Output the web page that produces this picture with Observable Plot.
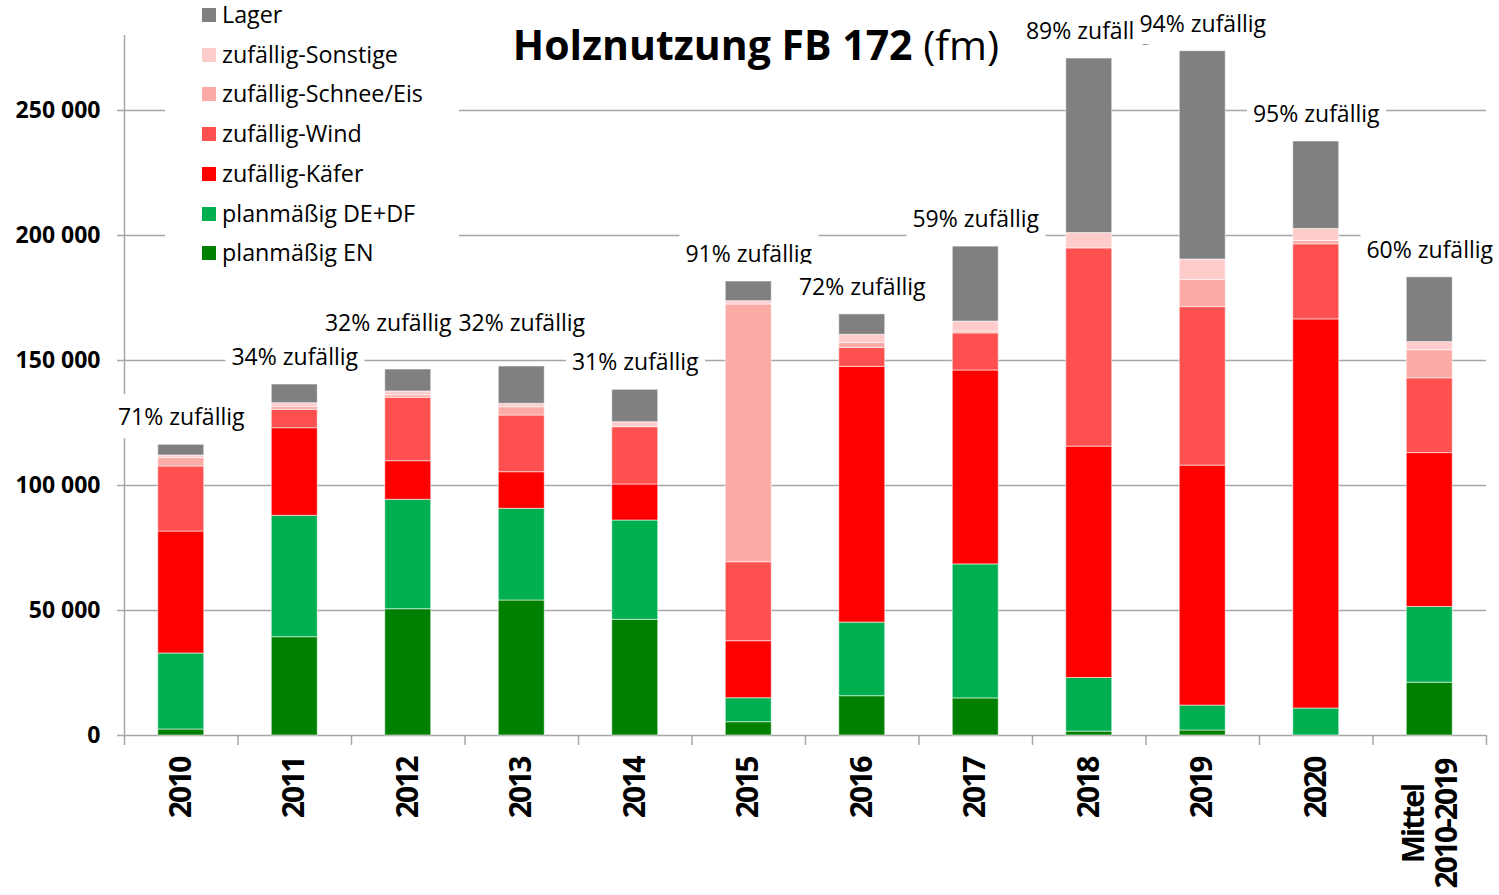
<!DOCTYPE html>
<html>
<head>
<meta charset="utf-8">
<script src="https://cdn.jsdelivr.net/npm/d3@7"></script>
<script src="https://cdn.jsdelivr.net/npm/@observablehq/plot@0.6"></script>
<style>
  body { margin: 0; background: #fff; }
  #wrap { position: relative; width: 1499px; height: 895px; font-family: 'Open Sans', sans-serif; overflow: hidden; }
  #title { position: absolute; left: 0; width: 1512px; top: 24px; text-align: center; font-size: 41px; line-height: 1; color: #000; white-space: nowrap; }
  #title b { font-weight: 700; }
  #legend { position: absolute; left: 165px; top: 0; width: 294px; height: 272px; background: #fff; }
  .li { position: absolute; left: 0; height: 40px; line-height: 40px; font-size: 23.3px; color: #000; white-space: nowrap; }
  .sw { position: absolute; left: 37px; top: 13px; width: 14px; height: 14px; }
  .lt { position: absolute; left: 57px; top: -1px; }
</style>
</head>
<body>
<div id="wrap">
  <div id="chart"></div>
  <div id="legend"></div>
  <div id="title"><b>Holznutzung FB 172</b> (fm)</div>
</div>
<script>
// ---------- data ----------
const categories = ["2010","2011","2012","2013","2014","2015","2016","2017","2018","2019","2020","Mittel\n2010-2019"];
const planEN    = [2400, 39320, 50520, 54000, 46280, 5320, 15720, 14840, 1560, 2000, 0, 21120];
const planDEDF  = [30400, 48560, 43760, 36680, 39720, 9600, 29440, 53600, 21440, 9960, 10800, 30280];
const kaefer    = [48800, 35040, 15440, 14640, 14400, 22800, 102280, 77560, 92560, 96000, 155640, 61560];
const wind      = [26000, 7360, 25360, 22680, 22920, 31600, 7560, 14840, 79280, 63400, 30040, 29920];
const schnee    = [3360, 1100, 1020, 3320, 0, 103080, 2000, 720, 0, 10880, 1280, 11240];
const sonstige  = [1040, 1540, 1500, 1360, 2000, 1320, 3280, 4000, 6160, 8160, 4880, 3240];
const lager     = [4280, 7480, 8800, 14920, 12960, 7880, 8160, 30000, 69800, 83320, 34960, 25920];
const pctLabels = ["71% zufällig","34% zufällig","32% zufällig","32% zufällig","31% zufällig","91% zufällig",
                   "72% zufällig","59% zufällig","89% zufällig","94% zufällig","95% zufällig","60% zufällig"];
const seriesNames = ["planmäßig EN","planmäßig DE+DF","zufällig-Käfer","zufällig-Wind","zufällig-Schnee/Eis","zufällig-Sonstige","Lager"];
const seriesColors = ["#008000","#00b050","#ff0000","#ff5050","#fbaaa5","#ffcccc","#808080"];
const yTicks = [0, 50000, 100000, 150000, 200000, 250000];

const seriesValues = [planEN, planDEDF, kaefer, wind, schnee, sonstige, lager];
const rows = seriesNames.flatMap((s, i) => categories.map((c, j) => ({cat: c, series: s, value: seriesValues[i][j]})));
const totals = categories.map((c, j) => seriesValues.reduce((a, arr) => a + arr[j], 0));
const labelRows = categories.map((c, j) => ({cat: c, total: totals[j], label: pctLabels[j], i: j}));

// ---------- layout ----------
const W = 1499, H = 895, mL = 124, mR = 13, mT = 35, mB = 160;
const step = (W - mL - mR) / categories.length;
const gridColor = "#a6a6a6";
const fmt = d => d3.format(",")(d).replace(/,/g, " ");
const labelNudge = {2: [-20, -46], 3: [0, -43]};
const years = categories.slice(0, -1);
const mittel = categories[categories.length - 1];
const xFont = "'Open Sans', sans-serif";

function pctMark(filterFn, dx, dy) {
  return Plot.text(labelRows.filter(filterFn), {
    x: "cat", y: "total", text: "label", dx, dy, lineAnchor: "middle",
    fontSize: 23, fontFamily: "'Open Sans', sans-serif", fill: "#000"
  });
}

const chart = Plot.plot({
  width: W, height: H,
  marginLeft: mL, marginRight: mR, marginTop: mT, marginBottom: mB,
  style: {fontFamily: "'Open Sans', sans-serif", background: "white", overflow: "visible"},
  x: {domain: categories, paddingInner: 0.595, paddingOuter: 0.2975, round: false},
  y: {domain: [0, 280000]},
  color: {domain: seriesNames, range: seriesColors},
  marks: [
    Plot.ruleY(yTicks.filter(d => d > 0), {stroke: gridColor, strokeWidth: 1.5}),
    Plot.ruleY([0], {stroke: gridColor, strokeWidth: 1.5}),
    Plot.ruleX([categories[0]], {dx: -step / 2, stroke: gridColor, strokeWidth: 1.5}),
    Plot.axisY({ticks: yTicks, tickSize: 7, tickPadding: 17, tickFormat: fmt, stroke: gridColor, strokeWidth: 1.5,
                fontSize: 23, fontWeight: "bold", fontFamily: "'Open Sans', sans-serif", fill: "#000", label: null}),
    Plot.axisX({ticks: categories, tickSize: 10, tickFormat: () => "", dx: -step / 2, stroke: gridColor, strokeWidth: 1.5, label: null}),
    Plot.axisX({ticks: [mittel], tickSize: 10, tickFormat: () => "", dx: step / 2, stroke: gridColor, strokeWidth: 1.5, label: null}),
    Plot.barY(rows, {x: "cat", y: "value", fill: "series", stroke: "white", strokeOpacity: 0.55, strokeWidth: 1}),
    Plot.text(years, {x: d => d, text: d => d, frameAnchor: "bottom", rotate: -90, textAnchor: "end", lineAnchor: "middle",
                      dy: 22, fontSize: 30, fontWeight: "bold", fontFamily: xFont, fill: "#000"}),
    Plot.text([mittel], {x: d => d, text: d => d, frameAnchor: "bottom", rotate: -90, textAnchor: "middle", lineAnchor: "middle",
                         dy: 22 + 66.5, fontSize: 30, fontWeight: "bold", lineHeight: 1.1,
                         fontFamily: xFont, fill: "#000"}),
    pctMark(d => d.i < 2, 0, -27),
    pctMark(d => d.i === 2, labelNudge[2][0], labelNudge[2][1]),
    pctMark(d => d.i === 3, labelNudge[3][0], labelNudge[3][1]),
    pctMark(d => d.i > 3, 0, -27)
  ]
});
document.getElementById("chart").append(chart);

const allTexts = Array.from(chart.querySelectorAll("text"));

// tighter letter spacing for the bold category labels
const catSet = new Set(categories.map(c => c.replace(/\n/g, "")));
allTexts.filter(t => catSet.has(t.textContent.trim()))
        .forEach(t => t.setAttribute("letter-spacing", "-2"));

// white label boxes (like spreadsheet data labels) behind each percentage text
const ns = "http://www.w3.org/2000/svg";
const labelSet = new Set(pctLabels);
allTexts.filter(t => labelSet.has(t.textContent.trim())).forEach(t => {
  const b = t.getBBox();
  const r = document.createElementNS(ns, "rect");
  const cy = b.y + b.height / 2;
  r.setAttribute("x", b.x - 6);
  r.setAttribute("width", b.width + 12);
  r.setAttribute("y", cy - 22);
  r.setAttribute("height", 44);
  r.setAttribute("fill", "white");
  r.setAttribute("stroke", "none");
  if (t.getAttribute("transform")) r.setAttribute("transform", t.getAttribute("transform"));
  if (t.getAttribute("x")) r.setAttribute("x", b.x - 6);
  t.parentNode.insertBefore(r, t);
});

// legend (top = Lager, bottom = planmäßig EN)
const legend = document.getElementById("legend");
seriesNames.slice().reverse().forEach((name, k) => {
  const color = seriesColors[seriesNames.indexOf(name)];
  const row = document.createElement("div");
  row.className = "li";
  row.style.top = (15 + k * 39.7 - 20) + "px";
  row.innerHTML = `<span class="sw" style="background:${color}"></span><span class="lt">${name}</span>`;
  legend.append(row);
});
</script>
</body>
</html>
